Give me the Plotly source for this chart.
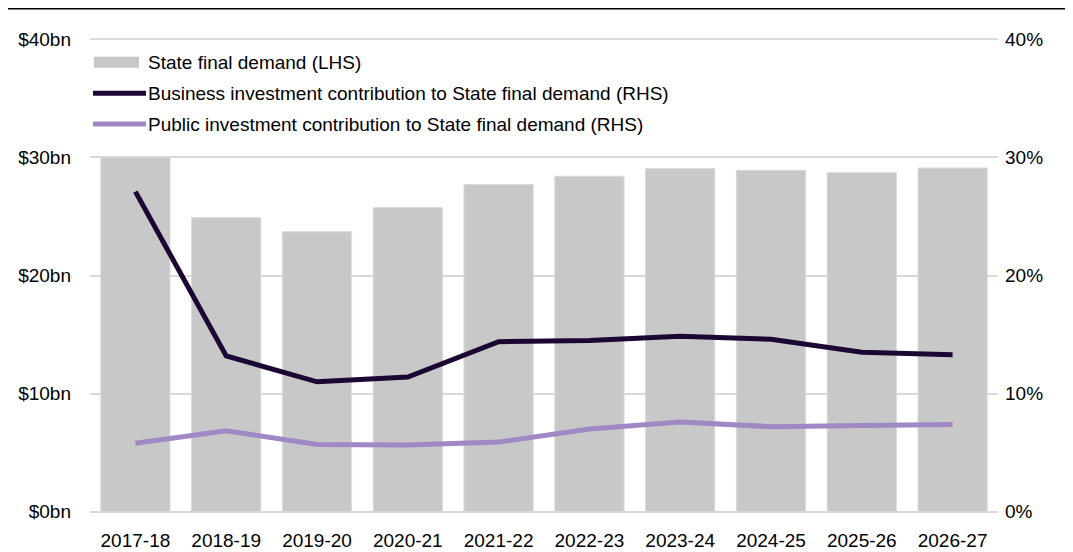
import plotly.graph_objects as go

categories = ["2017-18", "2018-19", "2019-20", "2020-21", "2021-22",
              "2022-23", "2023-24", "2024-25", "2025-26", "2026-27"]
state_final_demand = [30.0, 24.9, 23.7, 25.75, 27.7, 28.4, 29.05, 28.9, 28.7, 29.1]
business_contrib = [27.1, 13.2, 11.0, 11.4, 14.4, 14.5, 14.85, 14.6, 13.5, 13.3]
public_contrib = [5.8, 6.85, 5.7, 5.65, 5.9, 7.0, 7.6, 7.2, 7.3, 7.4]

left_ticks = [0, 10, 20, 30, 40]
left_labels = ["$0bn", "$10bn", "$20bn", "$30bn", "$40bn"]
right_ticks = [0, 10, 20, 30, 40]
right_labels = ["0%", "10%", "20%", "30%", "40%"]

legend_names = ["State final demand (LHS)",
                "Business investment contribution to State final demand (RHS)",
                "Public investment contribution to State final demand (RHS)"]

FONT = "Liberation Sans, Arial, sans-serif"
FS = 19
GRID = "#d9d9d9"
BAR_C = "#c8c8c8"
BUS_C = "#1a0833"
PUB_C = "#9f88c4"

# page places the figure 8px from the top-left corner
OFF = 8
PAD = 0.1          # small range padding so edge gridlines are drawn
UNIT = 11.825      # pixels per axis unit
W, H = 1073 - OFF, 552 - OFF
L, R = 90 - OFF, 75
T = 39 - OFF - PAD * UNIT
B = 40 - PAD * UNIT
ph = H - T - B
pw = W - L - R
y_bottom_page = H + OFF - B   # page pixel of plot bottom

def py(pix):
    return (y_bottom_page - pix) / ph

def px(pix):
    return (pix - OFF - L) / pw

fig = go.Figure()
fig.add_trace(go.Bar(
    x=categories, y=state_final_demand, name=legend_names[0],
    marker=dict(color=BAR_C, line=dict(color="#dcdcdc", width=1)),
    yaxis="y", showlegend=False,
))
fig.add_trace(go.Scatter(
    x=categories, y=business_contrib, mode="lines", name=legend_names[1],
    line=dict(color=BUS_C, width=5), yaxis="y2", showlegend=False,
))
fig.add_trace(go.Scatter(
    x=categories, y=public_contrib, mode="lines", name=legend_names[2],
    line=dict(color=PUB_C, width=5), yaxis="y2", showlegend=False,
))

shapes = [dict(
    type="line", xref="paper", yref="paper",
    x0=px(8), x1=px(1073), y0=py(8), y1=py(8),
    line=dict(color="#000000", width=2.5),
)]
annotations = []
rows = [62, 93, 124]
for i, (name, yc) in enumerate(zip(legend_names, rows)):
    if i == 0:
        shapes.append(dict(type="rect", xref="paper", yref="paper",
                           x0=px(94), x1=px(139), y0=py(yc + 5.5), y1=py(yc - 5.5),
                           line=dict(width=0), fillcolor=BAR_C))
    else:
        shapes.append(dict(type="line", xref="paper", yref="paper",
                           x0=px(93), x1=px(146), y0=py(yc), y1=py(yc),
                           line=dict(color=[BUS_C, PUB_C][i - 1], width=5)))
    annotations.append(dict(
        text=name, xref="paper", yref="paper", x=px(146), y=py(yc),
        xanchor="left", yanchor="middle", showarrow=False,
        font=dict(family=FONT, size=FS, color="#000000"),
    ))

fig.update_layout(
    width=W, height=H, autosize=False,
    showlegend=False,
    margin=dict(l=L, r=R, t=T, b=B, autoexpand=False),
    paper_bgcolor="white", plot_bgcolor="white",
    font=dict(family=FONT, size=FS, color="#000000"),
    bargap=0.237,
    xaxis=dict(
        type="category", showgrid=False, showline=False, zeroline=False,
        ticks="", ticklabelstandoff=14, automargin=False,
        tickfont=dict(family=FONT, size=FS, color="#000000"),
    ),
    yaxis=dict(
        range=[-PAD, 40 + PAD], tickvals=left_ticks, ticktext=left_labels,
        showgrid=True, gridcolor=GRID, gridwidth=2, zeroline=False,
        showline=False, ticks="", ticklabelstandoff=18, automargin=False,
        tickfont=dict(family=FONT, size=FS, color="#000000"),
    ),
    yaxis2=dict(
        range=[-PAD, 40 + PAD], tickvals=right_ticks, ticktext=right_labels,
        overlaying="y", side="right", showgrid=False, zeroline=False,
        showline=False, ticks="", ticklabelstandoff=6, automargin=False,
        tickfont=dict(family=FONT, size=FS, color="#000000"),
    ),
    shapes=shapes,
    annotations=annotations,
)

fig.write_html("out.html")
